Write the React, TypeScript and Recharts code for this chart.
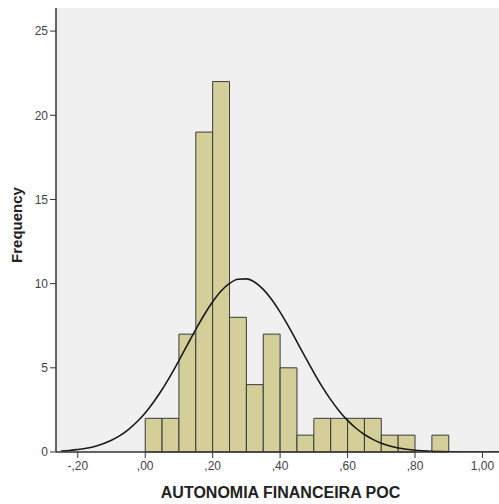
import React from 'react';
import { ComposedChart, Line, XAxis, YAxis, ReferenceArea, CartesianGrid, Label } from 'recharts';

// Histogram bins (lower edge, upper edge, frequency)
const binStarts = [0.0, 0.05, 0.1, 0.15, 0.2, 0.25, 0.3, 0.35, 0.4, 0.45, 0.5, 0.55, 0.6, 0.65, 0.7, 0.75, 0.8, 0.85];
const binWidth = 0.05;
const frequencies = [2, 2, 7, 19, 22, 8, 4, 7, 5, 1, 2, 2, 2, 2, 1, 1, 0, 1];

// Normal curve
const curveX = [
  -0.25, -0.225, -0.2, -0.175, -0.15, -0.125, -0.1, -0.075, -0.05, -0.025,
  0, 0.025, 0.05, 0.075, 0.1, 0.125, 0.15, 0.175, 0.2, 0.225,
  0.25, 0.275, 0.3, 0.325, 0.35, 0.375, 0.4, 0.425, 0.45, 0.475,
  0.5, 0.525, 0.55, 0.575, 0.6, 0.625, 0.65, 0.675, 0.7, 0.725,
  0.75, 0.775, 0.8, 0.825, 0.85, 0.875, 0.9, 0.925, 0.95, 0.975,
  1.0, 1.025, 1.05,
];
const curveY = [
  0.06, 0.09, 0.15, 0.22, 0.33, 0.49, 0.7, 0.97, 1.33, 1.78,
  2.32, 2.97, 3.71, 4.54, 5.43, 6.36, 7.28, 8.15, 8.92, 9.56,
  10.01, 10.26, 10.28, 10.08, 9.66, 9.06, 8.31, 7.46, 6.54, 5.62,
  4.72, 3.87, 3.11, 2.44, 1.88, 1.41, 1.04, 0.75, 0.52, 0.36,
  0.24, 0.16, 0.1, 0.065, 0.04, 0.024, 0.014, 0.008, 0.004, 0.002,
  0.001, 0.0005, 0.0002,
];

const yTicks = [0, 5, 10, 15, 20, 25];
const xTicks = [-0.2, 0, 0.2, 0.4, 0.6, 0.8, 1.0];
const xTickLabels = ['-,20', ',00', ',20', ',40', ',60', ',80', '1,00'];

const X_DOMAIN: [number, number] = [-0.2645, 1.049];
const Y_DOMAIN: [number, number] = [0, 26.37];

const curveData = curveX.map((x, i) => ({ x, y: curveY[i] }));

const FONT = '"Liberation Sans", Arial, sans-serif';
const BAR_FILL = '#d4cf98';
const BAR_STROKE = '#3a3a3a';
const AXIS = '#333333';

const fmtX = (v: number) => {
  const i = xTicks.findIndex((t) => Math.abs(t - v) < 1e-6);
  return i >= 0 ? xTickLabels[i] : String(v);
};

export default function App() {
  return (
    <div style={{ position: 'absolute', left: 0, top: 0, background: '#ffffff' }}>
      <ComposedChart
        width={499}
        height={504}
        data={curveData}
        margin={{ top: 8, right: 0, bottom: 22, left: 0 }}
      >
        <CartesianGrid horizontal={false} vertical={false} fill="#f0f0f0" stroke="none" />
        <XAxis
          xAxisId="top"
          orientation="top"
          type="number"
          dataKey="x"
          domain={X_DOMAIN}
          allowDataOverflow
          height={0}
          tick={false}
          tickLine={false}
          axisLine={{ stroke: '#555555', strokeWidth: 1.5 }}
        />
        <XAxis
          type="number"
          dataKey="x"
          domain={X_DOMAIN}
          allowDataOverflow
          ticks={xTicks}
          tickFormatter={fmtX}
          interval={0}
          height={30}
          tickSize={6}
          tickMargin={3}
          axisLine={{ stroke: AXIS, strokeWidth: 1.5 }}
          tickLine={{ stroke: AXIS }}
          tick={{ fill: '#444444', fontSize: 12, fontFamily: FONT }}
        >
          <Label
            value="AUTONOMIA FINANCEIRA POC"
            position="bottom"
            offset={5}
            dx={3}
            style={{ fontSize: 16, fontWeight: 'bold', fill: '#222222', fontFamily: FONT }}
          />
        </XAxis>
        <YAxis
          type="number"
          domain={Y_DOMAIN}
          allowDataOverflow
          ticks={yTicks}
          interval={0}
          width={56}
          tickSize={6}
          tickMargin={2}
          axisLine={{ stroke: AXIS, strokeWidth: 1.5 }}
          tickLine={{ stroke: AXIS }}
          tick={{ fill: '#444444', fontSize: 12, fontFamily: FONT }}
        >
          <Label
            value="Frequency"
            angle={-90}
            position="insideLeft"
            offset={0}
            dx={17}
            dy={-5}
            style={{ fontSize: 15, fontWeight: 'bold', fill: '#222222', fontFamily: FONT, textAnchor: 'middle' }}
          />
        </YAxis>
        {binStarts.map((s, i) =>
          frequencies[i] > 0 ? (
            <ReferenceArea
              key={i}
              x1={s}
              x2={s + binWidth}
              y1={0}
              y2={frequencies[i]}
              fill={BAR_FILL}
              fillOpacity={1}
              stroke={BAR_STROKE}
              strokeWidth={1}
            />
          ) : null
        )}
        <Line
          type="monotone"
          dataKey="y"
          stroke="#1a1a1a"
          strokeWidth={1.6}
          dot={false}
          activeDot={false}
          isAnimationActive={false}
        />
      </ComposedChart>
    </div>
  );
}
